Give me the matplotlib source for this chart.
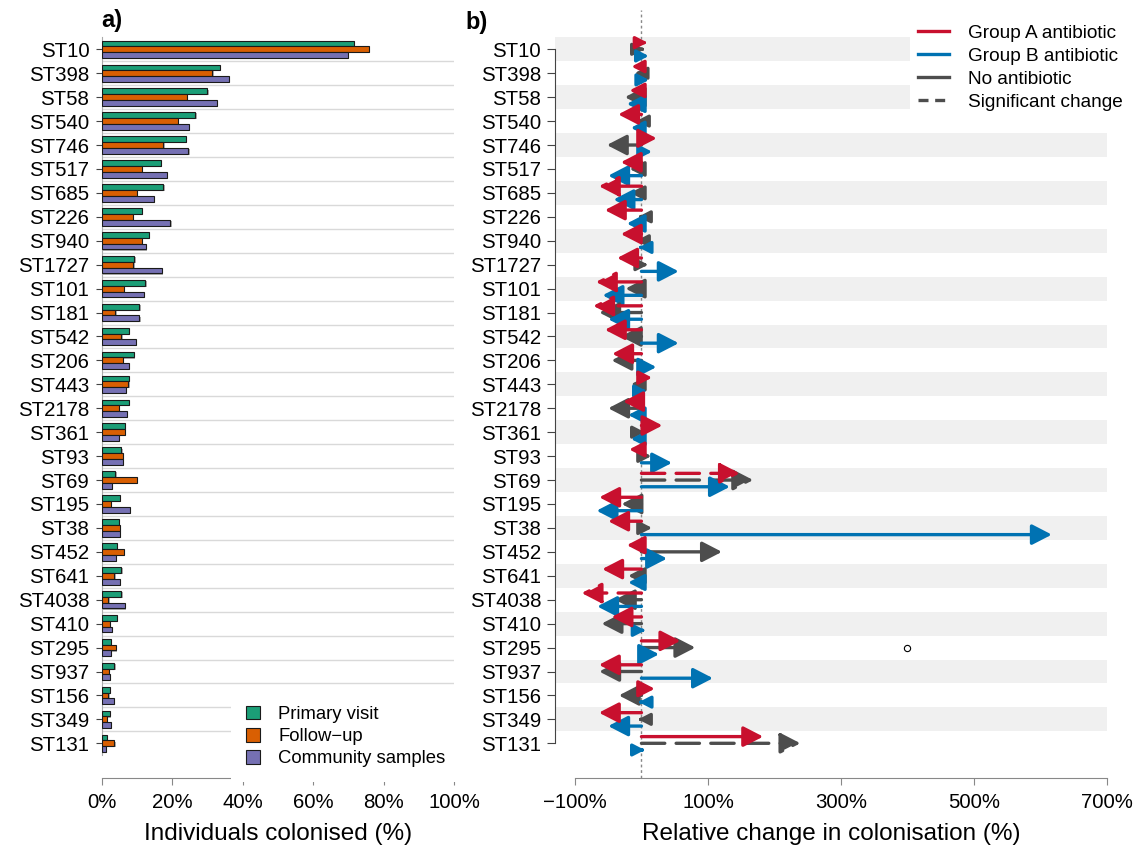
import numpy as np
import matplotlib
matplotlib.use('Agg')
import matplotlib.pyplot as plt
import matplotlib.patheffects as pe
from matplotlib.lines import Line2D

plt.rcParams['font.family'] = ['Liberation Sans', 'DejaVu Sans']

# data
sts = ['ST10', 'ST398', 'ST58', 'ST540', 'ST746', 'ST517', 'ST685', 'ST226',
       'ST940', 'ST1727', 'ST101', 'ST181', 'ST542', 'ST206', 'ST443',
       'ST2178', 'ST361', 'ST93', 'ST69', 'ST195', 'ST38', 'ST452', 'ST641',
       'ST4038', 'ST410', 'ST295', 'ST937', 'ST156', 'ST349', 'ST131']
primary = [71.5, 33.5, 30.0, 26.6, 23.8, 16.9, 17.5, 11.5, 13.3, 9.3, 12.4,
           10.7, 7.8, 9.1, 7.8, 7.8, 6.5, 5.6, 3.9, 5.3, 5.0, 4.4, 5.6, 5.6,
           4.4, 2.7, 3.6, 2.4, 2.4, 1.6]
followup = [75.7, 31.4, 24.3, 21.5, 17.5, 11.4, 10.0, 8.8, 11.5, 9.0, 6.4,
            3.9, 5.6, 6.1, 7.6, 4.8, 6.7, 6.0, 9.9, 2.7, 5.3, 6.4, 3.6, 1.9,
            2.4, 4.1, 2.1, 1.9, 1.6, 3.6]
community = [69.8, 36.0, 32.8, 24.8, 24.6, 18.6, 14.9, 19.5, 12.5, 17.2, 11.9,
             10.7, 9.8, 7.7, 6.9, 7.2, 5.0, 6.1, 2.8, 7.9, 5.3, 4.1, 5.3, 6.7,
             2.8, 2.7, 2.4, 3.5, 2.7, 1.2]
bar_labels = ['Primary visit', 'Follow\u2212up', 'Community samples']

group_a = [9, -15, -18, -35, 23, -31, -64, -55, -31, -36.5, -68.5, -72.5, -55,
           -44, 16, -27.5, 31.5, -18.5, 148, -63.5, -50, -22, -59, -90, -45,
           58.5, -64, 20, -64, 183]
no_abx = [5, -10, -25, -8, -52, -18, -17, -5, -8, 10, -24, -63.5, -31, -45,
          -16, -50, 5, 15, 168, -30, 16, 121, -20, -40, -60, 81, -63.5, -34,
          -5, 239]
group_b = [11, 11.5, -22, -16, 16, -50, -42, -22, -4, 56, -58.5, -50, 56,
           22.5, 8, -20, -16, 46, 133, -67.5, 617, 38.5, -20, -66.5, 6,
           26.5, 107.5, -4, -50, 5]
sig_a = ['ST685', 'ST101', 'ST181', 'ST69', 'ST4038']
sig_none = ['ST69', 'ST131']
sig_b = []
odd_point = (400, 'ST295')
arrow_labels = ['Group A antibiotic', 'Group B antibiotic', 'No antibiotic',
                'Significant change']

bar_cols = ('#1b9e77', '#d95f02', '#7570b3')
col_a, col_b, col_n = '#c8102e', '#0072b2', '#4d4d4d'

W, H = 1137, 850
fig = plt.figure(figsize=(W / 100, H / 100), dpi=100)
rows = np.arange(len(sts))
ytop, ybot = -1.642, 30.45
bottom = 1 - 778 / H
height = (778 - 10) / H
axa = fig.add_axes([101.7 / W, bottom, 352.6 / W, height])
axb = fig.add_axes([555 / W, bottom, 552 / W, height])

tick_fs = 14.7

# ---- panel a: barplot
bh = 0.243
shadow = [pe.SimplePatchShadow(offset=(0.8, -0.8), shadow_rgbFace='#777777',
                               alpha=0.6), pe.Normal()]
for i, (vals, c, lab) in enumerate(zip((primary, followup, community),
                                      bar_cols, bar_labels)):
    bars = axa.barh(rows + (i - 1) * bh, vals, height=bh, color=c,
                    edgecolor='#1a1a1a', lw=0.8, label=lab, zorder=3)
    for b in bars:
        b.set_path_effects(shadow)
axa.hlines(rows[:-1] + 0.5, 0, 100, color='#d9d9d9', lw=1, zorder=1)
axa.set_xlim(0, 100)
axa.set_ylim(ybot, ytop)
axa.set_yticks(rows)
axa.set_yticklabels(sts, fontsize=tick_fs)
axa.set_xticks(np.arange(0, 101, 20))
axa.set_xticklabels(['%d%%' % v for v in range(0, 101, 20)], fontsize=tick_fs)
for s in ('top', 'right'):
    axa.spines[s].set_visible(False)
axa.spines['bottom'].set_bounds(0, 100)
axa.spines['bottom'].set_color('#888888')
axa.spines['left'].set_bounds(-0.5, 29.5)
axa.spines['left'].set_color('#aaaaaa')
axa.tick_params(axis='y', length=4, pad=5, color='#444444')
axa.tick_params(axis='x', length=5, pad=6, color='#888888')
axa.set_xlabel('Individuals colonised (%)', fontsize=17.5, labelpad=8)
leg = axa.legend(loc='upper left', bbox_to_anchor=(231 / W, 1 - 691 / H),
                 bbox_transform=fig.transFigure, fontsize=13.3,
                 handlelength=0.75, handleheight=0.75, handletextpad=1.0,
                 labelspacing=0.27, borderpad=0.8, borderaxespad=0,
                 frameon=True, fancybox=False)
leg.get_frame().set_facecolor('white')
leg.get_frame().set_edgecolor('none')
leg.get_frame().set_alpha(1)
leg.set_zorder(5)

# ---- panel b: arrows
for k in rows[::2]:
    axb.axhspan(k - 0.5, k + 0.5, color='#f0f0f0', lw=0, zorder=0)
axb.axvline(0, color='#888888', lw=1, ls=(0, (2, 2)), zorder=1)

px_per_unit = 552 / 830.0   # pixels per % on panel b
head_px = 16.7              # full arrow head length in pixels


def arrow(val, y, col, dashed):
    # short arrows get a smaller head
    scale = min(1.0, max(abs(val) * px_per_unit, 9.5) / head_px)
    ls = (0, (7, 3.4)) if dashed else '-'
    axb.annotate('', xy=(val, y), xytext=(0, y), zorder=3,
                 arrowprops=dict(arrowstyle='-|>,head_length=1.2,head_width=0.62',
                                 mutation_scale=10 * scale, color=col, lw=2.4,
                                 linestyle=ls, shrinkA=0, shrinkB=0))


off = 0.28
for k, st in enumerate(sts):
    arrow(no_abx[k], k, col_n, st in sig_none)
    arrow(group_b[k], k + off, col_b, st in sig_b)
    arrow(group_a[k], k - off, col_a, st in sig_a)
axb.plot(odd_point[0], sts.index(odd_point[1]), 'o', ms=4.5, mfc='white',
         mec='black', mew=0.8, zorder=4)

xt = [-100, 100, 300, 500, 700]
axb.set_xlim(-130, 700)
axb.set_ylim(ybot, ytop)
axb.set_xticks(xt)
axb.set_xticklabels([('%d%%' % v).replace('-', '\u2212') for v in xt],
                    fontsize=tick_fs)
axb.set_yticks(rows)
axb.set_yticklabels(sts, fontsize=tick_fs)
for s in ('top', 'right'):
    axb.spines[s].set_visible(False)
axb.spines['bottom'].set_bounds(-100, 700)
axb.spines['bottom'].set_color('#888888')
axb.spines['left'].set_bounds(0, 29)
axb.spines['left'].set_color('#444444')
axb.tick_params(axis='y', length=6, pad=4, color='#444444')
axb.tick_params(axis='x', length=5, pad=6, color='#888888')
axb.set_xlabel('Relative change in colonisation (%)', fontsize=17.5, labelpad=8)

handles = [Line2D([], [], color=col_a, lw=2.4),
           Line2D([], [], color=col_b, lw=2.4),
           Line2D([], [], color=col_n, lw=2.4),
           Line2D([], [], color=col_n, lw=2.4, ls=(0, (3, 2)))]
legb = axb.legend(handles, arrow_labels, loc='upper left',
                  bbox_to_anchor=(910 / W, 1 - 17 / H),
                  bbox_transform=fig.transFigure, fontsize=13.7,
                  handlelength=1.65, handletextpad=1.0, labelspacing=0.3,
                  borderpad=0.4, borderaxespad=0, frameon=True, fancybox=False)
legb.get_frame().set_facecolor('white')
legb.get_frame().set_edgecolor('none')
legb.get_frame().set_alpha(1)
legb.set_zorder(5)

fig.text(101.7 / W, 1 - 21 / H, 'a)', fontsize=17, fontweight='bold',
         ha='left', va='center')
fig.text(465 / W, 1 - 23 / H, 'b)', fontsize=17, fontweight='bold',
         ha='left', va='center')

fig.savefig('out.png', dpi=100)
